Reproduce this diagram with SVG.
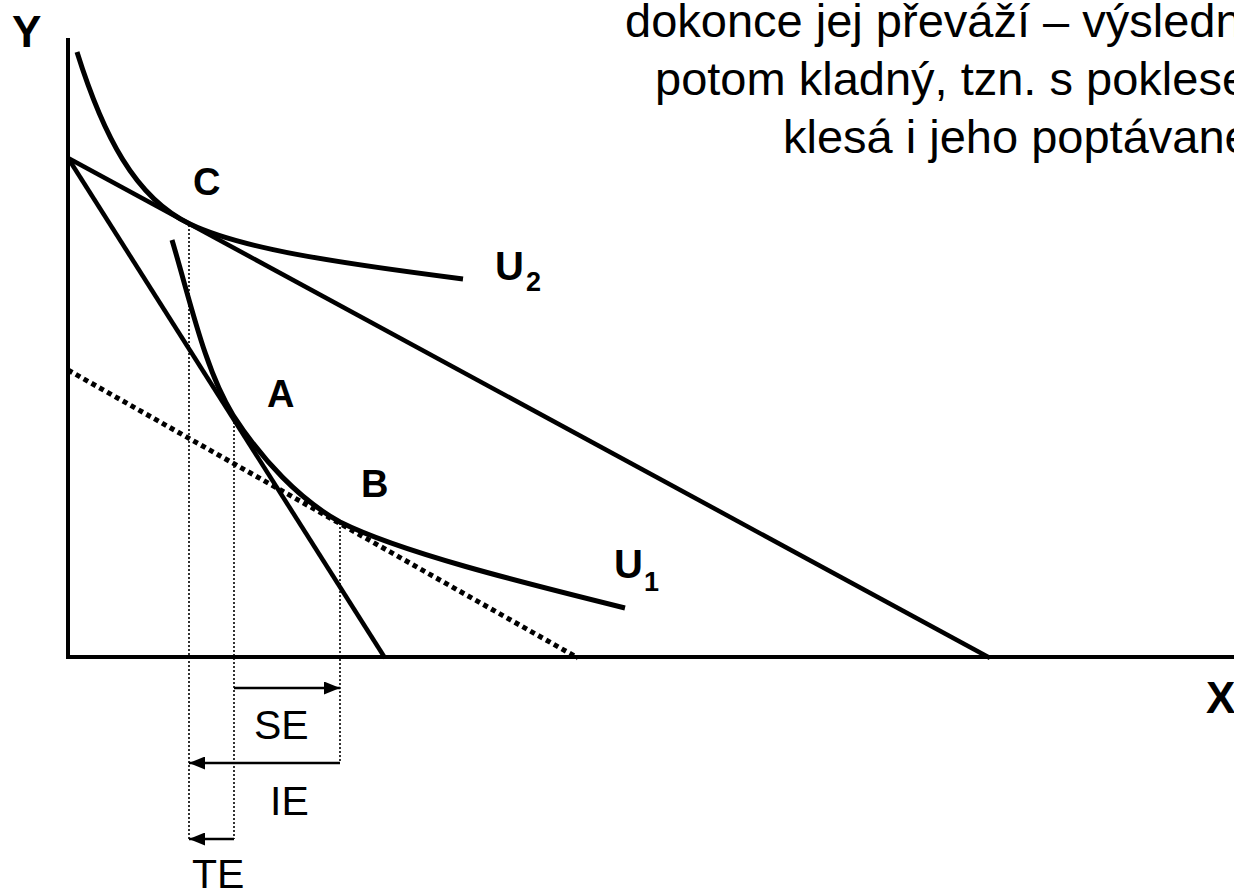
<svg xmlns="http://www.w3.org/2000/svg" width="1234" height="889" viewBox="0 0 1234 889">
<style>
.ax{stroke:#000;stroke-width:4;fill:none}
.bl{stroke:#000;stroke-width:4.5;fill:none}
.cv{stroke:#000;stroke-width:5;fill:none}
.dt{stroke:#000;stroke-width:5;fill:none;stroke-dasharray:5 4}
.vd{stroke:#000;stroke-width:1.6;fill:none;stroke-dasharray:2 2}
.ar{stroke:#000;stroke-width:2.5;fill:none}
.lb{font-family:"Liberation Sans",Arial,sans-serif;font-weight:bold;font-size:38px;fill:#000}
.sub{font-family:"Liberation Sans",Arial,sans-serif;font-weight:bold;font-size:27px;fill:#000}
.ef{font-family:"Liberation Sans",Arial,sans-serif;font-size:41px;fill:#000}
.tx{font-family:"Liberation Sans",Arial,sans-serif;font-size:47px;fill:#000}
</style>
<defs>
<marker id="ah" markerUnits="userSpaceOnUse" markerWidth="16" markerHeight="13" refX="16" refY="6.5" orient="auto">
<path d="M0,0 L16,6.5 L0,13 z" fill="#000"/>
</marker>
</defs>
<rect width="1234" height="889" fill="#fff"/>
<g id="text-block">
<text class="tx" x="625" y="37">dokonce jej převáží – výsledn</text>
<text class="tx" x="655" y="95">potom kladný, tzn. s poklese</text>
<text class="tx" x="783" y="153">klesá i jeho poptávané</text>
</g>
<g id="axes">
<line class="ax" x1="68" y1="38" x2="68" y2="659"/>
<line class="ax" x1="66" y1="657" x2="1234" y2="657"/>
<text class="lb" x="12" y="47" style="font-size:44px">Y</text>
<text class="lb" x="1206" y="713" style="font-size:44px">X</text>
</g>
<g id="connectors">
<line class="bl" x1="68" y1="158" x2="385" y2="658"/>
<line class="bl" x1="68" y1="158" x2="990" y2="658"/>
<line class="dt" x1="68" y1="370" x2="578" y2="658"/>
<line class="vd" x1="189" y1="225" x2="189" y2="839"/>
<line class="vd" x1="234" y1="418" x2="234" y2="839"/>
<line class="vd" x1="340" y1="523" x2="340" y2="763"/>
<line class="ar" x1="234" y1="688" x2="340" y2="688" marker-end="url(#ah)"/>
<line class="ar" x1="340" y1="763" x2="189" y2="763" marker-end="url(#ah)"/>
<line class="ar" x1="234" y1="839" x2="189" y2="839" marker-end="url(#ah)"/>
</g>
<g id="U2">
<path class="cv" d="M77,52 C103,135 135,198 190,224 C240,248 330,262 463,279"/>
<text class="lb" x="495" y="280" style="font-size:40px">U</text>
<text class="sub" x="526" y="291">2</text>
</g>
<g id="U1">
<path class="cv" d="M172,240 C190,300 205,370 233,415 C262,460 300,500 340,522 C400,552 520,582 625,608"/>
<text class="lb" x="614" y="578" style="font-size:40px">U</text>
<text class="sub" x="644" y="591">1</text>
</g>
<g id="C"><text class="lb" x="193" y="195">C</text></g>
<g id="A"><text class="lb" x="267" y="407">A</text></g>
<g id="B"><text class="lb" x="361" y="497">B</text></g>
<g id="SE"><text class="ef" x="254" y="739">SE</text></g>
<g id="IE"><text class="ef" x="270" y="815">IE</text></g>
<g id="TE"><text class="ef" x="192" y="888">TE</text></g>
</svg>
